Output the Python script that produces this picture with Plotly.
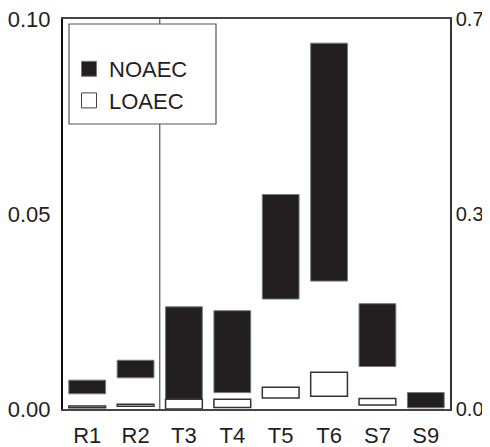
import plotly.graph_objects as go

categories = ["R1", "R2", "T3", "T4", "T5", "T6", "S7", "S9"]
noaec_low = [0.0039, 0.0080, 0.0025, 0.0042, 0.0282, 0.0328, 0.0109, 0.0003]
noaec_high = [0.0074, 0.0125, 0.0262, 0.0252, 0.0550, 0.0938, 0.0270, 0.0042]
loaec_low = [0.0003, 0.0007, 0.0000, 0.0004, 0.0028, 0.0033, 0.0010, None]
loaec_high = [0.0008, 0.0012, 0.0025, 0.0025, 0.0056, 0.0094, 0.0027, None]
left_ticks = [0.0, 0.05, 0.10]
left_ticktext = ["0.00", "0.05", "0.10"]
right_ticks = [0.0, 0.35, 0.7]
right_ticktext = ["0.0", "0.3", "0.7"]

FONT = "Liberation Sans, Arial, sans-serif"
FS = 22
INK = "#231f20"

# page body has an 8px margin; figure is sized so the plot lands where the reference has it
OFF = 8
L, R, T, B = 63 - OFF, 40, 19 - OFF, 38
W, H = 490 - OFF, 447 - OFF
PW, PH = W - L - R, H - T - B  # 387 x 390

def px_x(x):  # page pixel -> paper x
    return (x - OFF - L) / PW

def px_y(y):  # page pixel -> paper y
    return (H - B - (y - OFF)) / PH

lo_cats = [c for c, v in zip(categories, loaec_low) if v is not None]
lo_base = [v for v in loaec_low if v is not None]
lo_h = [h - l for h, l in zip(loaec_high, loaec_low) if l is not None]

fig = go.Figure()
fig.add_trace(go.Bar(
    x=categories, y=[h - l for h, l in zip(noaec_high, noaec_low)], base=noaec_low,
    name="NOAEC", marker=dict(color=INK, line=dict(color="#777", width=1)),
    width=0.76, showlegend=False,
))
fig.add_trace(go.Bar(
    x=lo_cats, y=lo_h, base=lo_base,
    name="LOAEC", marker=dict(color="white", line=dict(color="#333", width=1.5)),
    width=0.76, showlegend=False,
))
# legend entries
fig.add_trace(go.Scatter(x=[None], y=[None], mode="markers", name="NOAEC",
                         marker=dict(symbol="square", size=15, color=INK,
                                     line=dict(color="#777", width=1))))
fig.add_trace(go.Scatter(x=[None], y=[None], mode="markers", name="LOAEC",
                         marker=dict(symbol="square", size=15, color="white",
                                     line=dict(color="#444", width=1))))
fig.add_trace(go.Scatter(x=[categories[0]], y=[0], yaxis="y2", mode="markers",
                         marker=dict(opacity=0), showlegend=False, hoverinfo="skip"))

fig.add_shape(type="line", xref="x", yref="paper", x0=1.5, x1=1.5, y0=0, y1=1,
              line=dict(color="#555", width=1.2), layer="above")
fig.add_shape(type="rect", xref="paper", yref="paper",
              x0=px_x(69), x1=px_x(216), y0=px_y(124), y1=px_y(24),
              line=dict(color="#555", width=1.2), fillcolor="white", layer="above")

fig.update_layout(
    width=W, height=H,
    margin=dict(l=L, r=R, t=T, b=B, autoexpand=False),
    paper_bgcolor="white", plot_bgcolor="white",
    barmode="overlay",
    font=dict(family=FONT, size=FS, color=INK),
    showlegend=True,
    legend=dict(x=px_x(69), y=px_y(48), xanchor="left", yanchor="top",
                bgcolor="rgba(0,0,0,0)", borderwidth=0,
                font=dict(family=FONT, size=FS, color=INK),
                itemwidth=30, tracegroupgap=0),
    xaxis=dict(showline=True, linecolor="#444", linewidth=1.5, mirror=True,
               showgrid=False, ticks="", tickfont=dict(size=FS), automargin=False,
               range=[-0.5, 7.5], ticklabelstandoff=6, ticklabeloverflow="allow"),
    yaxis=dict(range=[0, 0.10], tickvals=left_ticks, ticktext=left_ticktext,
               showline=True, linecolor="#111", linewidth=2, showgrid=False,
               zeroline=False, ticks="", tickfont=dict(size=FS), automargin=False,
               ticklabelstandoff=6, ticklabeloverflow="allow"),
    yaxis2=dict(range=[0, 0.7], tickvals=right_ticks, ticktext=right_ticktext,
                overlaying="y", side="right", showline=True, linecolor="#333",
                linewidth=1.5, showgrid=False, zeroline=False, ticks="",
                tickfont=dict(size=20), automargin=False, ticklabelstandoff=0,
                ticklabeloverflow="allow"),
)

fig.write_html("out.html")
